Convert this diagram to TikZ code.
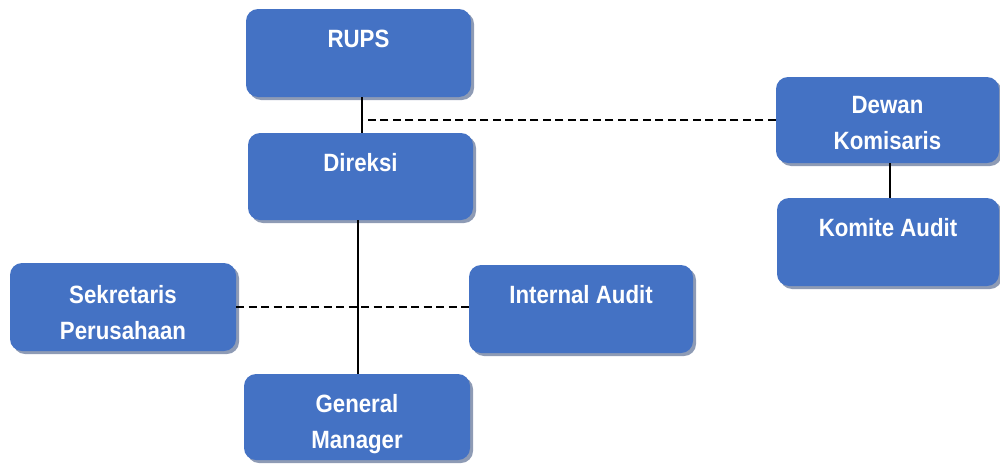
\documentclass[tikz,border=0pt]{standalone}
\usepackage{fontspec}
\setmainfont{Liberation Sans}[FakeStretch=0.89]
\usetikzlibrary{shadows}
\definecolor{boxblue}{HTML}{4472C4}
\definecolor{boxshadow}{RGB}{142,155,181}
\tikzset{
  unit/.style={rectangle, rounded corners=12pt, fill=boxblue, draw=none,
    drop shadow={shadow xshift=3pt, shadow yshift=-3pt, fill=boxshadow, opacity=1}},
  caption/.style={anchor=north, inner sep=0pt, align=center, text=white,
    font=\fontsize{25}{36}\selectfont\bfseries},
  link/.style={line width=1.6pt, black},
  dotted link/.style={line width=1.6pt, black, dash pattern=on 8pt off 4.5pt}
}
\begin{document}
\begin{tikzpicture}[x=1pt, y=-1pt]
\useasboundingbox (0,0) rectangle (1000,463);

% boxes
\node[unit, minimum width=225pt, minimum height=88pt] (rups) at (358.5,53) {};
\node[unit, minimum width=225pt, minimum height=87pt] (dir) at (360.5,176.5) {};
\node[unit, minimum width=223pt, minimum height=86pt] (dk) at (887.5,120) {};
\node[unit, minimum width=222pt, minimum height=88pt] (ka) at (888,242) {};
\node[unit, minimum width=226pt, minimum height=88pt] (sek) at (123,307) {};
\node[unit, minimum width=224pt, minimum height=88pt] (ia) at (581,309) {};
\node[unit, minimum width=226pt, minimum height=86pt] (gm) at (357,417) {};

% captions
\node[caption] (trups) at ([yshift=-21pt]rups.north) {RUPS};
\node[caption] (tdir) at ([yshift=-20pt]dir.north) {Direksi};
\node[caption] (tdk) at ([yshift=-19pt]dk.north) {Dewan\\Komisaris};
\node[caption] (tka) at ([yshift=-20pt]ka.north) {Komite Audit};
\node[caption] (tsek) at ([yshift=-22pt]sek.north) {Sekretaris\\Perusahaan};
\node[caption] (tia) at ([yshift=-20pt]ia.north) {Internal Audit};
\node[caption] (tgm) at ([yshift=-20pt]gm.north) {General\\Manager};

% connectors
\coordinate (tie) at ([xshift=3.5pt]rups.south);
\draw[link] (tie) -- (tie |- dir.north);
\draw[dotted link] (dk.west) -- (dk.west -| tie);
\draw[link] ([xshift=-2.5pt]dir.south) -- ([xshift=-2.5pt]dir.south |- gm.north);
\draw[dotted link] (sek.east) -- (sek.east -| ia.west);
\draw[link] ([xshift=2.5pt]dk.south) -- ([xshift=2.5pt]dk.south |- ka.north);
\end{tikzpicture}
\end{document}
